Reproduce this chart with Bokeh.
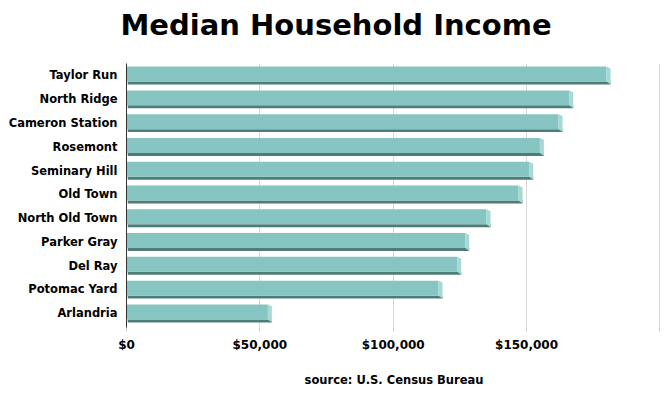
from bokeh.plotting import figure
from bokeh.models import Range1d, FixedTicker, Title, ColumnDataSource
from bokeh.embed import file_html
from bokeh.resources import INLINE

neighborhoods = ["Taylor Run", "North Ridge", "Cameron Station", "Rosemont", "Seminary Hill",
                 "Old Town", "North Old Town", "Parker Gray", "Del Ray", "Potomac Yard", "Arlandria"]
income = [180000, 166000, 162000, 155000, 151000, 147000, 135000, 127000, 124000, 117000, 53000]
x_ticks = [0, 50000, 100000, 150000, 200000]
x_labels = ["$0", "$50,000", "$100,000", "$150,000", ""]

n = len(neighborhoods)
ypos = [n - 1 - i for i in range(n)]

FONT = "DejaVu Sans"
p = figure(width=665, height=389, output_backend="svg", toolbar_location=None,
           x_range=Range1d(0, 200600), y_range=Range1d(-0.6, n - 0.5),
           min_border_left=126, min_border_right=4, min_border_top=50, min_border_bottom=40)
p.outline_line_color = None
p.background_fill_color = "white"

# main title (outermost) and a small spacer between it and the plot area
p.title.text = "Median Household Income"
p.title.text_font = FONT
p.title.text_font_style = "bold"
p.title.text_font_size = "29px"
p.title.align = "left"
p.title.offset = -6
p.title.standoff = 11
p.title.text_color = "black"
spacer = Title(text=" ", text_font_size="12px", standoff=0)
p.add_layout(spacer, "above")

# 3D bar geometry (in data units)
depth_x = 1500
dark_h = 0.125
face_top = [y + 0.37 for y in ypos]
face_bot = [y - 0.26 for y in ypos]
dark_bot = [fb - dark_h for fb in face_bot]

src = ColumnDataSource(dict(y=ypos, v=income, ft=face_top, fb=face_bot, db=dark_bot,
                            vd=[v + depth_x for v in income]))
# dark underside
p.quad(left=depth_x * 0.3, right="vd", top="fb", bottom="db", source=src,
       fill_color="#4E7C79", line_color=None)
# front face
p.quad(left=0, right="v", top="ft", bottom="fb", source=src,
       fill_color="#86C5C1", line_color=None)
# top highlight
p.quad(left=0, right="v", top="ft", bottom=[t - 0.05 for t in face_top],
       fill_color="#9CD2CE", line_color=None)
# right cap
cap_xs = [[v, v + depth_x, v + depth_x, v] for v in income]
cap_ys = [[ft, ft - 0.08, db, fb] for ft, fb, db in zip(face_top, face_bot, dark_bot)]
p.patches(cap_xs, cap_ys, fill_color="#A6D8D4", line_color=None)

# axes
p.xaxis.ticker = FixedTicker(ticks=x_ticks)
p.xaxis.major_label_overrides = {t: l for t, l in zip(x_ticks, x_labels)}
p.xaxis.axis_line_color = None
p.xaxis.major_tick_line_color = "#cccccc"
p.xaxis.major_tick_out = 4
p.xaxis.major_tick_in = 0
p.xaxis.minor_tick_line_color = None
p.xaxis.major_label_text_font = FONT
p.xaxis.major_label_text_font_style = "bold"
p.xaxis.major_label_text_font_size = "12px"
p.xaxis.major_label_text_color = "black"
p.xaxis.major_label_standoff = 6
p.xaxis.axis_label = "source: U.S. Census Bureau"
p.xaxis.axis_label_text_font = FONT
p.xaxis.axis_label_text_font_style = "bold"
p.xaxis.axis_label_text_font_size = "11.5px"
p.xaxis.axis_label_text_color = "black"
p.xaxis.axis_label_standoff = 18

p.yaxis.ticker = FixedTicker(ticks=ypos)
p.yaxis.major_label_overrides = {y: name for y, name in zip(ypos, neighborhoods)}
p.yaxis.axis_line_color = "#333333"
p.yaxis.major_tick_line_color = None
p.yaxis.minor_tick_line_color = None
p.yaxis.major_label_text_font = FONT
p.yaxis.major_label_text_font_style = "bold"
p.yaxis.major_label_text_font_size = "11.5px"
p.yaxis.major_label_text_color = "black"
p.yaxis.major_label_standoff = 3

p.xgrid.grid_line_color = "#d9d9d9"
p.ygrid.grid_line_color = None

open("out.html", "w").write(file_html(p, INLINE))
